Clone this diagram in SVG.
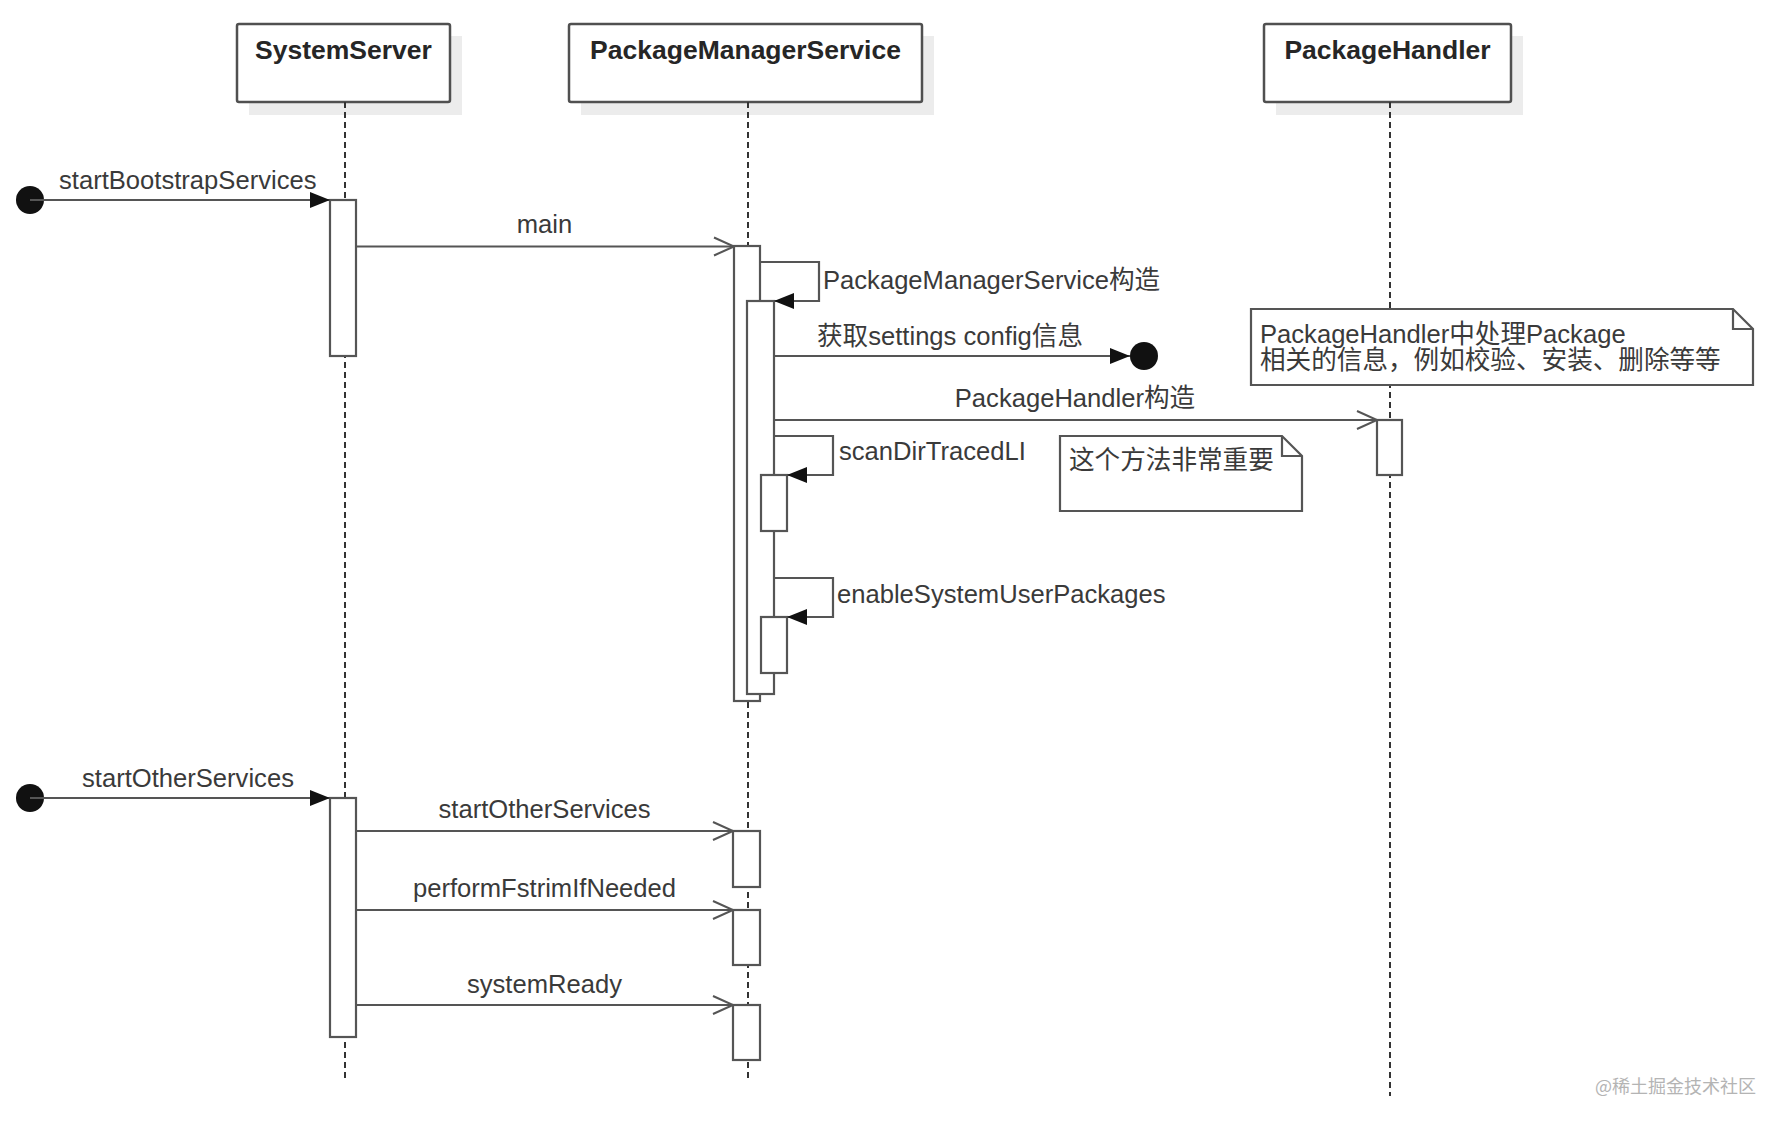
<svg xmlns="http://www.w3.org/2000/svg" width="1784" height="1124" viewBox="0 0 1784 1124">
  <style>
    .shadow { fill: #ececec; }
    .head { fill: #ffffff; stroke: #505050; stroke-width: 2.5; }
    .headtxt { font-family: "Liberation Sans", "Noto Sans CJK SC", sans-serif; font-size: 26.5px; font-weight: bold; fill: #262626; text-anchor: middle; }
    .life { stroke: #333333; stroke-width: 2; stroke-dasharray: 6 4; fill: none; }
    .act { fill: #ffffff; stroke: #555555; stroke-width: 2.2; }
    .msg { stroke: #555555; stroke-width: 2.2; fill: none; }
    .lbl { font-family: "Liberation Sans", "Noto Sans CJK SC", sans-serif; font-size: 25.6px; fill: #3a3a3a; }
    .mid { text-anchor: middle; }
    .note { fill: #ffffff; stroke: #555555; stroke-width: 2.2; }
    .dot { fill: #111111; }
    .wm { font-family: "Noto Sans CJK SC", "Liberation Sans", sans-serif; font-size: 18px; fill: #b4b4b4; }
  </style>
  <defs>
    <marker id="filled" markerUnits="userSpaceOnUse" markerWidth="22" markerHeight="18" refX="20" refY="8" orient="auto" overflow="visible">
      <path d="M0,0 L20,8 L0,16 Z" fill="#111111"/>
    </marker>
    <marker id="open" markerUnits="userSpaceOnUse" markerWidth="22" markerHeight="20" refX="20" refY="9" orient="auto" overflow="visible">
      <path d="M0,0 L20,9 L0,18" fill="none" stroke="#555555" stroke-width="2"/>
    </marker>
  </defs>

  <g id="SystemServer">
    <rect class="shadow" x="249" y="36" width="213" height="79"/>
    <rect class="head" x="237" y="24" width="213" height="78" rx="2"/>
    <text class="headtxt" x="343.5" y="59">SystemServer</text>
    <line class="life" x1="345" y1="102" x2="345" y2="1082"/>
  </g>

  <g id="PackageManagerService">
    <rect class="shadow" x="581" y="36" width="353" height="79"/>
    <rect class="head" x="569" y="24" width="353" height="78" rx="2"/>
    <text class="headtxt" x="745.5" y="59">PackageManagerService</text>
    <line class="life" x1="748" y1="102" x2="748" y2="1082"/>
  </g>

  <g id="PackageHandler">
    <rect class="shadow" x="1276" y="36" width="247" height="79"/>
    <rect class="head" x="1264" y="24" width="247" height="78" rx="2"/>
    <text class="headtxt" x="1387.5" y="59">PackageHandler</text>
    <line class="life" x1="1390" y1="102" x2="1390" y2="1096"/>
  </g>

  <g id="activations">
    <rect class="act" x="330" y="200" width="26" height="156"/>
    <rect class="act" x="734" y="246" width="26" height="455"/>
    <rect class="act" x="747" y="301" width="27" height="393"/>
    <rect class="act" x="761" y="475" width="26" height="56"/>
    <rect class="act" x="761" y="617" width="26" height="56"/>
    <rect class="act" x="1377" y="420" width="25" height="55"/>
    <rect class="act" x="330" y="798" width="26" height="239"/>
    <rect class="act" x="733" y="831" width="27" height="56"/>
    <rect class="act" x="733" y="910" width="27" height="55"/>
    <rect class="act" x="733" y="1005" width="27" height="55"/>
  </g>

  <g id="connectors">
    <circle class="dot" cx="30" cy="200" r="14"/>
    <line class="msg" x1="30" y1="200" x2="330" y2="200" marker-end="url(#filled)"/>
    <line class="msg" x1="356" y1="246.5" x2="734" y2="246.5" marker-end="url(#open)"/>
    <path class="msg" d="M760,262 H819 V301 H774" marker-end="url(#filled)"/>
    <line class="msg" x1="774" y1="356" x2="1130" y2="356" marker-end="url(#filled)"/>
    <circle class="dot" cx="1144" cy="356" r="14"/>
    <line class="msg" x1="774" y1="420" x2="1377" y2="420" marker-end="url(#open)"/>
    <path class="msg" d="M774,436 H833 V475 H787" marker-end="url(#filled)"/>
    <path class="msg" d="M774,578 H833 V617 H787" marker-end="url(#filled)"/>
    <circle class="dot" cx="30" cy="798" r="14"/>
    <line class="msg" x1="30" y1="798" x2="330" y2="798" marker-end="url(#filled)"/>
    <line class="msg" x1="356" y1="831" x2="733" y2="831" marker-end="url(#open)"/>
    <line class="msg" x1="356" y1="910" x2="733" y2="910" marker-end="url(#open)"/>
    <line class="msg" x1="356" y1="1005" x2="733" y2="1005" marker-end="url(#open)"/>
  </g>

  <g id="labels">
    <text class="lbl" x="59" y="189">startBootstrapServices</text>
    <text class="lbl mid" x="544.5" y="233">main</text>
    <text class="lbl" x="823" y="289">PackageManagerService构造</text>
    <text class="lbl" x="817" y="345">获取settings config信息</text>
    <text class="lbl mid" x="1075" y="407">PackageHandler构造</text>
    <text class="lbl" x="839" y="460">scanDirTracedLI</text>
    <text class="lbl" x="837" y="603">enableSystemUserPackages</text>
    <text class="lbl" x="82" y="787">startOtherServices</text>
    <text class="lbl mid" x="544.5" y="818">startOtherServices</text>
    <text class="lbl mid" x="544.5" y="897">performFstrimIfNeeded</text>
    <text class="lbl mid" x="544.5" y="993">systemReady</text>
  </g>

  <g id="note-packagehandler">
    <path class="note" d="M1251,309 H1733 L1753,329 V385 H1251 Z"/>
    <path class="msg" d="M1733,309 V329 H1753"/>
    <text class="lbl" x="1260" y="343">PackageHandler中处理Package</text>
    <text class="lbl" x="1260" y="369">相关的信息，例如校验、安装、删除等等</text>
  </g>

  <g id="note-scandir">
    <path class="note" d="M1060,436 H1282 L1302,456 V511 H1060 Z"/>
    <path class="msg" d="M1282,436 V456 H1302"/>
    <text class="lbl" x="1069" y="469">这个方法非常重要</text>
  </g>

  <text class="wm" x="1595" y="1093">@稀土掘金技术社区</text>
</svg>
